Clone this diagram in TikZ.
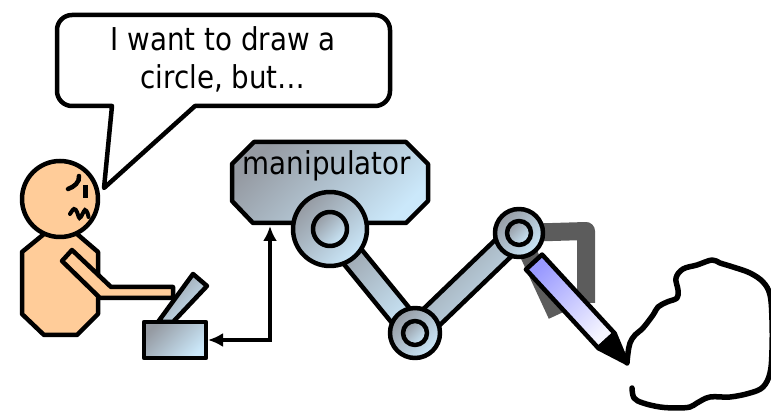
\documentclass[tikz,border=0pt]{standalone}
\usepackage{fontspec}
\setmainfont{DejaVu Sans}[FakeStretch=0.88]
\usetikzlibrary{arrows.meta,calc}

\definecolor{skin}{HTML}{FFCC99}
\definecolor{metaldark}{HTML}{959AA2}
\definecolor{metallight}{HTML}{CBE8FA}
\definecolor{penblue}{HTML}{9999FF}
\definecolor{penwhite}{HTML}{F6F6FF}
\definecolor{gripgray}{HTML}{5C5C5C}

\tikzset{
  outline/.style={draw=black,line width=4.5pt,line join=round},
  metal/.style={outline,top color=metaldark,bottom color=metallight,shading angle=45},
  skinpart/.style={outline,fill=skin},
  grip/.style={draw=gripgray,line width=18pt,line join=round},
  saytext/.style={font=\fontsize{31.5}{38}\selectfont,inner sep=0pt},
}

\begin{document}
\begin{tikzpicture}[x=1pt,y=-1pt,>=Latex]
  \useasboundingbox (0,0) rectangle (771,411);

  % speech bubble
  \draw[outline,fill=white] (112,106) -- (104,188) -- (195,106) -- (300,106)
    [rounded corners=15pt] -- (390,106) -- (390,15) -- (57,15) -- (57,106) -- (85,106)
    [sharp corners] -- cycle;
  \node[saytext,align=center,anchor=north] (say) at (223,26) {I want to draw a\\circle, but…};

  % the person
  \draw[skinpart] (44,234) -- (77,234) -- (98,252) -- (98,314) -- (77,335)
    -- (44,335) -- (22,314) -- (22,252) -- cycle;
  \draw[skinpart] (60,199) circle[radius=38pt];
  \draw[line width=4.5pt,line cap=round] (68,189) .. controls (74,187) and (80,182) .. (79,176);
  \draw[line width=5pt] (85,185) -- (85,198);
  \draw[line width=4pt,line cap=round] plot[smooth,tension=0.7] coordinates
    {(70,214) (74,209) (77,212) (79.5,218) (82.5,214) (85,210) (87.5,213) (88.5,217)};
  \draw[skinpart] (72,250) -- (62,261) -- (100,298) -- (173,298) -- (173,287) -- (111,287) -- cycle;

  % controller
  \draw[metal] (158,322) -- (173,322) -- (207,286) -- (193,274) -- cycle;
  \draw[metal] (144,322) rectangle (206,358);
  \coordinate (kbE) at (208,340);
  \coordinate (manS) at (270,226);
  \draw[line width=4.5pt,{Latex[length=15pt,width=14pt]}-{Latex[length=15pt,width=14pt]}] (kbE) -| (manS);

  % manipulator
  \draw[metal] (254,142) -- (406,142) -- (428,164) -- (428,201) -- (406,223)
    -- (253,223) -- (232,201) -- (232,164) -- cycle;
  \node[saytext,anchor=base] (mantext) at (327,175) {manipulator};

  \coordinate (j1) at (330,229);
  \coordinate (j2) at (415,333);
  \coordinate (j3) at (519,233);

  \draw[metal] ($(j1)!11.5pt!90:(j2)$) -- ($(j2)!11.5pt!-90:(j1)$) -- ($(j2)!11.5pt!90:(j1)$) -- ($(j1)!11.5pt!-90:(j2)$) -- cycle;
  \draw[metal] ($(j2)!11.5pt!90:(j3)$) -- ($(j3)!11.5pt!-90:(j2)$) -- ($(j3)!11.5pt!90:(j2)$) -- ($(j2)!11.5pt!-90:(j3)$) -- cycle;

  \draw[grip] (j3) -- (586,231) -- (586,303);
  \draw[grip] (j3) -- (557,315);

  \draw[metal] (j1) circle[radius=37pt];
  \draw[metal] (j1) circle[radius=17pt];
  \draw[metal] (j2) circle[radius=25pt];
  \draw[metal] (j2) circle[radius=12pt];
  \draw[metal] (j3) circle[radius=24pt];
  \draw[metal] (j3) circle[radius=12pt];

  % pencil
  \coordinate (penTop) at (534,262);
  \coordinate (penTip) at (627,363);
  \coordinate (penEnd) at ($(penTop)!0.78!(penTip)$);
  \draw[outline,top color=penblue,bottom color=penwhite,shading angle=45]
    ($(penTop)!11pt!90:(penTip)$) -- ($(penEnd)!11pt!-90:(penTop)$)
    -- ($(penEnd)!11pt!90:(penTop)$) -- ($(penTop)!11pt!-90:(penTip)$) -- cycle;
  \draw[outline,fill=black] ($(penEnd)!11pt!-90:(penTop)$) -- (penTip) -- ($(penEnd)!11pt!90:(penTop)$) -- cycle;

  % the scribble
  \draw[line width=5.5pt,line cap=round,line join=round] plot[smooth,tension=0.6] coordinates
    {(627,363) (628,353) (630,343) (635,335) (643,328) (653,315) (658,307) (667,302)
     (677,298) (678,290) (676,278) (683,269) (697,265) (712,260) (720,263) (733,267)
     (750,273) (763,282) (770,295) (772,320) (772,350) (770,373) (763,387) (750,393)
     (730,397) (710,397) (697,403) (690,407) (677,408) (660,407) (643,403) (634,398) (632,388)};
\end{tikzpicture}
\end{document}
